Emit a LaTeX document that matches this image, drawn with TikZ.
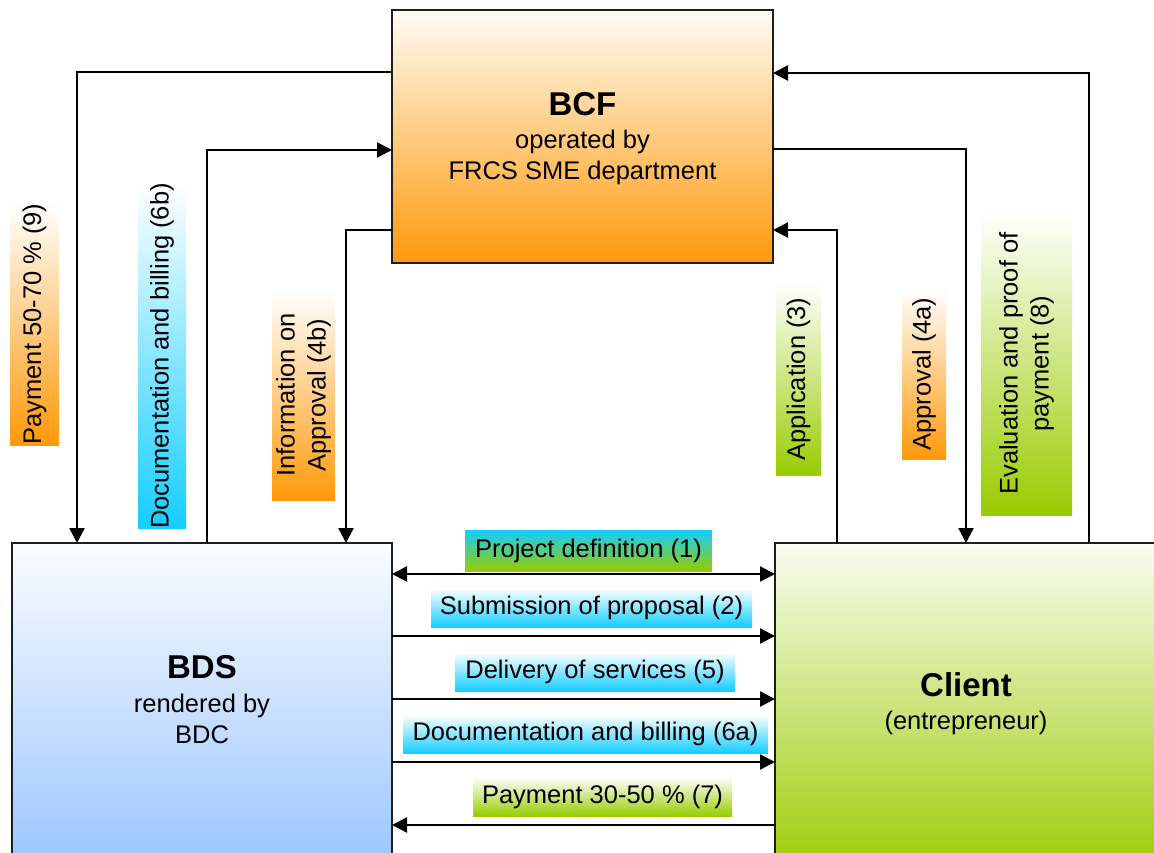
\documentclass[tikz,border=0pt]{standalone}
\usepackage{fontspec}
\setmainfont{Liberation Sans}
\usetikzlibrary{arrows.meta}
\definecolor{orng}{RGB}{255,153,10}
\definecolor{cyn}{RGB}{20,205,255}
\definecolor{grn}{RGB}{153,204,0}
\definecolor{blu}{RGB}{150,195,255}
\definecolor{bcftop}{RGB}{255,252,245}
\definecolor{bdstop}{RGB}{250,252,255}
\definecolor{clitop}{RGB}{250,252,240}
\definecolor{edge}{RGB}{30,30,30}
\begin{document}
\begin{tikzpicture}[x=1pt,y=-1pt,
  lbl/.style={font=\fontsize{25.5}{31}\selectfont, inner sep=0pt, outer sep=0pt, align=center},
  box/.style={draw=edge, line width=1.5pt, inner sep=0pt, outer sep=0pt},
  conn/.style={line width=2.3pt, draw=black},
  arr/.style={-{Triangle[length=15pt,width=15pt]}},
  arrb/.style={{Triangle[length=15pt,width=15pt]}-{Triangle[length=15pt,width=15pt]}}
]
\useasboundingbox (0,0) rectangle (1154,853);
\clip (0,0) rectangle (1154,853);

% main boxes
\node[box, minimum width=381pt, minimum height=253pt, top color=bcftop, bottom color=orng] (bcf) at (582.5,136.5) {};
\node[box, minimum width=380pt, minimum height=337pt, top color=bdstop, bottom color=blu] (bds) at (202,711.5) {};
\node[box, minimum width=405pt, minimum height=337pt, top color=clitop, bottom color=grn] (client) at (977.5,711.5) {};

\node[lbl] (bcftxt) at (582.5,139) {{\fontsize{33}{38}\selectfont\bfseries BCF}\\[2pt]operated by\\FRCS SME department};
\node[lbl] (bdstxt) at (202,700) {{\fontsize{33}{38}\selectfont\bfseries BDS}\\[3pt]rendered by\\BDC};
\node[lbl] (clitxt) at (966,704) {{\fontsize{33}{38}\selectfont\bfseries Client}\\[2pt](entrepreneur)};

% vertical labels
\node[lbl, rotate=90, minimum width=242pt, minimum height=49pt, top color=white, bottom color=orng] (l9) at (34.5,324) {Payment 50-70 \% (9)};
\node[lbl, rotate=90, minimum width=342pt, minimum height=48pt, top color=white, bottom color=cyn] (l6b) at (162,356) {Documentation and billing (6b)};
\node[lbl, rotate=90, minimum width=210pt, minimum height=63pt, top color=white, bottom color=orng] (l4b) at (303.5,395) {Information on\\Approval (4b)};
\node[lbl, rotate=90, minimum width=192pt, minimum height=45pt, top color=white, bottom color=grn] (l3) at (798.5,379) {Application (3)};
\node[lbl, rotate=90, minimum width=170pt, minimum height=44pt, top color=white, bottom color=orng] (l4a) at (924,374) {Approval (4a)};
\node[lbl, rotate=90, minimum width=303pt, minimum height=91pt, top color=white, bottom color=grn] (l8) at (1026.5,363.5) {Evaluation and proof of\\payment (8)};

% horizontal labels
\node[lbl, minimum width=247pt, minimum height=41pt, top color=cyn, bottom color=grn] (l1) at (588.5,550.5) {Project definition (1)};
\node[lbl, minimum width=321pt, minimum height=39pt, top color=white, bottom color=cyn] (l2) at (591.5,607.5) {Submission of proposal (2)};
\node[lbl, minimum width=280pt, minimum height=39pt, top color=white, bottom color=cyn] (l5) at (595,671.5) {Delivery of services (5)};
\node[lbl, minimum width=365pt, minimum height=38pt, top color=white, bottom color=cyn] (l6a) at (585.5,734) {Documentation and billing (6a)};
\node[lbl, minimum width=259pt, minimum height=39pt, top color=white, bottom color=grn] (l7) at (602.5,796.5) {Payment 30-50 \% (7)};

% connectors around BCF
\draw[conn, arr] (bcf.west |- 0,72) -| (bds.north -| 77,0);
\draw[conn, arr] (bds.north -| 207,0) |- (bcf.west |- 0,150);
\draw[conn, arr] (bcf.west |- 0,230) -| (bds.north -| 346,0);
\draw[conn, arr] (client.north -| 837,0) |- (bcf.east |- 0,230);
\draw[conn, arr] (bcf.east |- 0,149) -| (client.north -| 966,0);
\draw[conn, arr] (client.north -| 1089,0) |- (bcf.east |- 0,73);

% connectors between BDS and Client
\draw[conn, arrb] (bds.east |- 0,574) -- (client.west |- 0,574);
\draw[conn, arr] (bds.east |- 0,636) -- (client.west |- 0,636);
\draw[conn, arr] (bds.east |- 0,699) -- (client.west |- 0,699);
\draw[conn, arr] (bds.east |- 0,762) -- (client.west |- 0,762);
\draw[conn, arr] (client.west |- 0,825) -- (bds.east |- 0,825);
\end{tikzpicture}
\end{document}
